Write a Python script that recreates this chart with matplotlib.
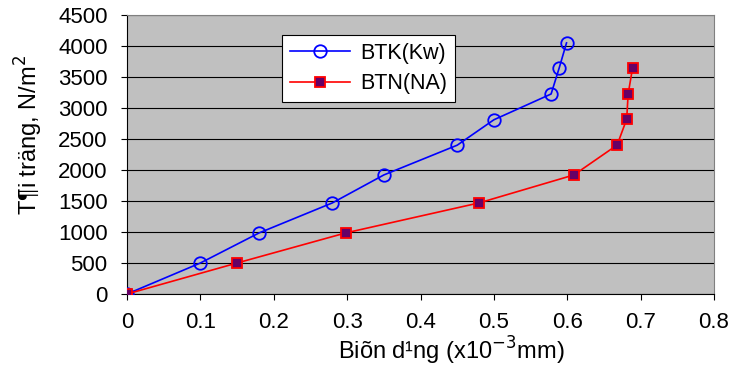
import numpy as np
import matplotlib.pyplot as plt

plt.rcParams['font.family'] = ['Liberation Sans', 'DejaVu Sans']

# BTK(Kw) series
btk_x = [0, 0.10, 0.18, 0.28, 0.35, 0.45, 0.50, 0.578, 0.589, 0.599]
btk_y = [0, 500, 985, 1470, 1920, 2400, 2810, 3226, 3645, 4050]

# BTN(NA) series
btn_x = [0, 0.15, 0.298, 0.48, 0.609, 0.668, 0.681, 0.683, 0.689]
btn_y = [0, 500, 985, 1470, 1920, 2403, 2820, 3226, 3645]

x_ticks = [0, 0.1, 0.2, 0.3, 0.4, 0.5, 0.6, 0.7, 0.8]
y_ticks = list(range(0, 5000, 500))

fig = plt.figure(figsize=(7.31, 3.69), dpi=100)
ax = fig.add_axes([127/731, 1 - 294/369, 587/731, 279/369])
ax.set_facecolor('#c0c0c0')

ax.plot(btk_x, btk_y, color='#0000ff', lw=1.2, marker='o', markersize=9,
        markerfacecolor='none', markeredgecolor='#0000ff', markeredgewidth=1.3,
        label='BTK(Kw)', zorder=3)
ax.plot(btn_x, btn_y, color='#ff0000', lw=1.2, marker='s', markersize=7,
        markerfacecolor='#660066', markeredgecolor='#ff0000', markeredgewidth=1.3,
        label='BTN(NA)', zorder=4)

ax.set_xlim(0, 0.8)
ax.set_ylim(0, 4500)
ax.set_xticks(x_ticks)
ax.set_xticklabels(['0' if t == 0 else f'{t:g}' for t in x_ticks])
ax.set_yticks(y_ticks)
ax.yaxis.grid(True, color='#000000', lw=0.8)
ax.set_axisbelow(True)

ax.tick_params(labelsize=16, direction='out', length=4, width=0.8, pad=10)
ax.tick_params(axis='x', pad=9)
for s in ['top', 'right']:
    ax.spines[s].set_color('#808080')
for s in ['left', 'bottom']:
    ax.spines[s].set_color('#000000')

ax.set_xlabel('Biõn d¹ng (x10$^{-3}$mm)', fontsize=17)
ax.xaxis.set_label_coords(0.552, -0.145)
ax.set_ylabel('T¶i träng, N/m$^2$', fontsize=17)
ax.yaxis.set_label_coords(-0.14, 0.57)

leg = ax.legend(loc='upper left', bbox_to_anchor=(0.264, 0.928), fontsize=15.5,
                frameon=True, fancybox=False, edgecolor='#000000',
                framealpha=1, handlelength=2.8, borderpad=0.35, labelspacing=0.45,
                borderaxespad=0, handletextpad=0.5)
leg.get_frame().set_linewidth(0.8)

fig.savefig('out.png', dpi=100)
